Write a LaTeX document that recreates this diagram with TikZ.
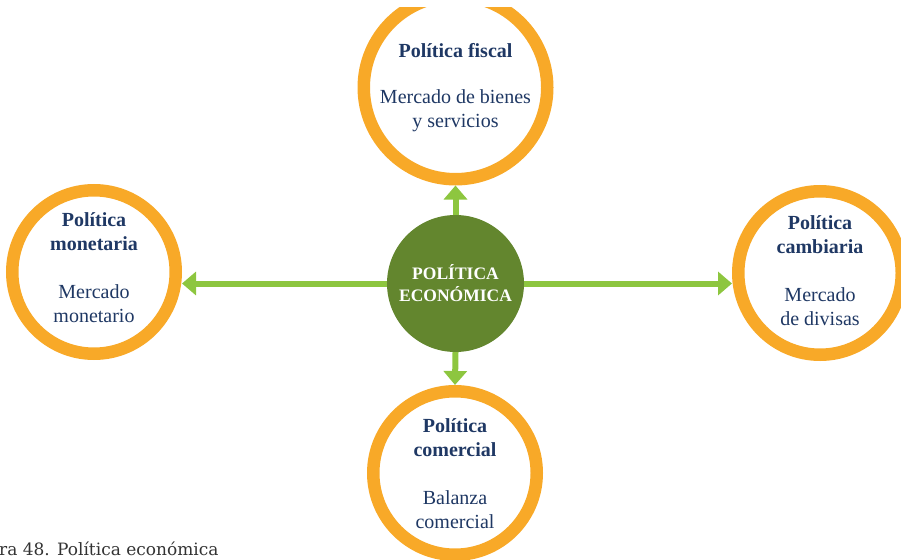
\documentclass[tikz,border=0pt]{standalone}
\usepackage{fontspec}
\setmainfont{Liberation Serif}
\newfontfamily\capfont{DejaVu Serif}
\usetikzlibrary{arrows.meta}
\definecolor{ringor}{HTML}{F8A928}
\definecolor{ecogreen}{HTML}{63862E}
\definecolor{arrgreen}{HTML}{8DC63F}
\definecolor{navytxt}{HTML}{1F3864}
\definecolor{captxt}{HTML}{333333}
\begin{document}
\begin{tikzpicture}[x=1pt,y=-1pt,
  ring/.style={circle, draw=ringor, fill=white, line width=12.5pt, inner sep=0pt},
  ringtext/.style={align=center, text=navytxt, font=\fontsize{20}{24}\selectfont, inner sep=0pt},
  hub/.style={circle, fill=ecogreen, inner sep=0pt, minimum size=137pt, text=white, align=center, font=\bfseries\fontsize{17.5}{22}\selectfont},
  link/.style={draw=arrgreen, line width=6pt, -{Triangle[width=23pt,length=14pt]}},
]
\useasboundingbox (0,0) rectangle (901,559);
\begin{scope}
\clip (0,8) rectangle (901,559);
\node[ring, minimum size=183.5pt] (fiscal) at (455.5,87.5) {};
\node[ring, minimum size=163.5pt] (monet) at (94,272) {};
\node[ring, minimum size=163.5pt] (camb) at (820,273) {};
\node[ring, minimum size=163.5pt] (comer) at (455,473) {};
\node[hub] (eco) at (455.5,283.5) {POLÍTICA\\ECONÓMICA};
\draw[link] (eco.north) -- (fiscal.south);
\draw[link] (eco.south) -- (comer.north);
\draw[link] (eco.west) -- (monet.east |- eco.west);
\draw[link] (eco.east) -- (camb.west |- eco.east);
\node[ringtext, anchor=base] (fiscaltxt) at (455.5,128) {\textbf{Política fiscal}\\[22pt]Mercado de bienes\\y servicios};
\node[ringtext, anchor=base] (monettxt) at (94,322) {\textbf{Política}\\\textbf{monetaria}\\[24pt]Mercado\\monetario};
\node[ringtext, anchor=base] (cambtxt) at (820,325) {\textbf{Política}\\\textbf{cambiaria}\\[24pt]Mercado\\de divisas};
\node[ringtext, anchor=base] (comertxt) at (455,528) {\textbf{Política}\\\textbf{comercial}\\[24pt]Balanza\\comercial};
\node[anchor=base west, inner sep=0pt, text=captxt, font=\capfont\fontsize{17}{20}\selectfont] (cap) at (-1,555) {ra 48. Política económica};
\end{scope}
\end{tikzpicture}
\end{document}
